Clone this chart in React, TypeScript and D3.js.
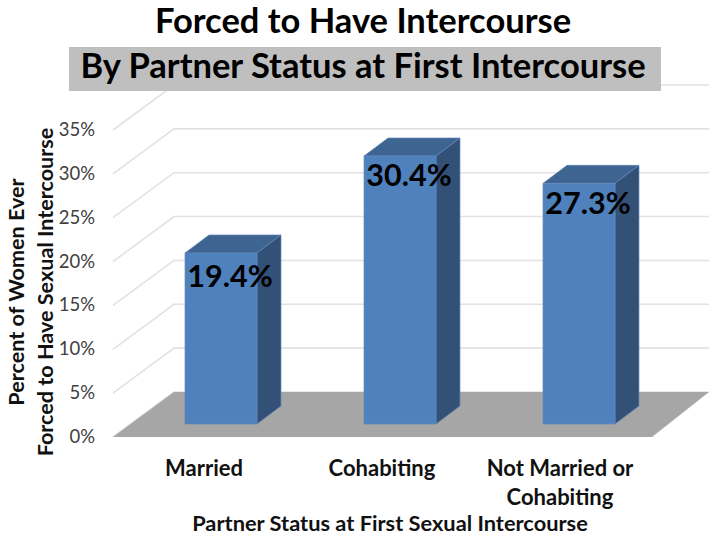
import React from 'react'
import { scaleBand, scaleLinear, range as d3range } from 'd3'

const categories = ['Married', 'Cohabiting', 'Not Married or Cohabiting']
const values = [19.4, 30.4, 27.3]
const valueLabels = ['19.4%', '30.4%', '27.3%']
const tickValues = d3range(0, 40, 5)

const width = 709
const height = 537
const font = 'Lato, "Open Sans", sans-serif'

// the fake 3D: front edge of the wall/floor and how far back it goes
const floorDepth = { dx: 61, dy: -45 }
const barDepth = { dx: 24, dy: -18 }
const barBase = 424

const yScale = scaleLinear().domain([0, 35]).range([437, 130])
const xScale = scaleBand<string>()
    .domain(categories)
    .range([131.5, 668.5])
    .paddingInner(0.598)
    .paddingOuter(0.299)
// value labels sit a bit closer to the bar top as the bars get taller
const labelY = scaleLinear().domain([19.4, 30.4]).range([287, 186])

const poly = (pts: number[][]) => pts.map(p => p.join(',')).join(' ')

function App() {
    const bw = xScale.bandwidth()
    const floorLeft = 113
    const floorRight = 652
    return (
        <svg width={width} height={height} style={{ position: 'absolute', left: 0, top: 0 }} fontFamily={font}>
            <rect width={width} height={height} fill="#fff" />

            {/* walls */}
            {tickValues.map(t => {
                const y = yScale(t)
                return (
                    <g key={t}>
                        <polyline
                            points={poly([[floorLeft, y], [floorLeft + floorDepth.dx, y + floorDepth.dy], [width, y + floorDepth.dy]])}
                            fill="none"
                            stroke="#e2e2e2"
                            strokeWidth={1.6}
                        />
                        <text x={95} y={y + 6} textAnchor="end" fontSize={18.5} fill="#404040">{t}%</text>
                    </g>
                )
            })}

            {/* floor */}
            <polygon
                points={poly([
                    [floorLeft, yScale(0)],
                    [floorLeft + floorDepth.dx, yScale(0) + floorDepth.dy],
                    [width, yScale(0) + floorDepth.dy],
                    [floorRight, yScale(0)],
                ])}
                fill="#a6a6a6"
            />

            {/* bars */}
            {categories.map((c, i) => {
                const x0 = xScale(c) as number
                const x1 = x0 + bw
                const h = yScale(0) - yScale(values[i])
                const top = barBase - h * 1.005
                const { dx, dy } = barDepth
                return (
                    <g key={c} stroke="#6288b8" strokeWidth={0.7}>
                        <polygon points={poly([[x0, top], [x0 + dx, top + dy], [x1 + dx, top + dy], [x1, top]])} fill="#3e6492" />
                        <polygon points={poly([[x1, top], [x1 + dx, top + dy], [x1 + dx, barBase + dy], [x1, barBase]])} fill="#335177" />
                        <rect x={x0} y={top} width={bw} height={barBase - top} fill="#4f81bd" />
                        <text x={x0 + bw / 2 + 9} y={labelY(values[i])} textAnchor="middle" fontSize={30.5} fontWeight={700} fill="#000" stroke="none">
                            {valueLabels[i]}
                        </text>
                    </g>
                )
            })}

            {/* titles */}
            <text x={363} y={33} textAnchor="middle" fontSize={34.5} fontWeight={700} fill="#000">Forced to Have Intercourse</text>
            <rect x={69} y={47} width={592} height={44} fill="#bfbfbf" />
            <text x={363} y={78} textAnchor="middle" fontSize={34.5} fontWeight={700} fill="#000">By Partner Status at First Intercourse</text>

            {/* category labels */}
            <g fontSize={22} fontWeight={700} fill="#111" textAnchor="middle">
                <text x={204} y={476}>Married</text>
                <text x={382} y={476}>Cohabiting</text>
                <text x={560} y={476}>Not Married or</text>
                <text x={560} y={505}>Cohabiting</text>
            </g>
            <text x={390} y={531} textAnchor="middle" fontSize={21.8} fontWeight={700} fill="#111">
                Partner Status at First Sexual Intercourse
            </text>

            {/* y title */}
            <g fontSize={21.6} fontWeight={700} fill="#111" textAnchor="middle">
                <text transform="translate(24,292) rotate(-90)">Percent of Women Ever</text>
                <text transform="translate(53,292) rotate(-90)">Forced to Have Sexual Intercourse</text>
            </g>
        </svg>
    )
}

export default App
